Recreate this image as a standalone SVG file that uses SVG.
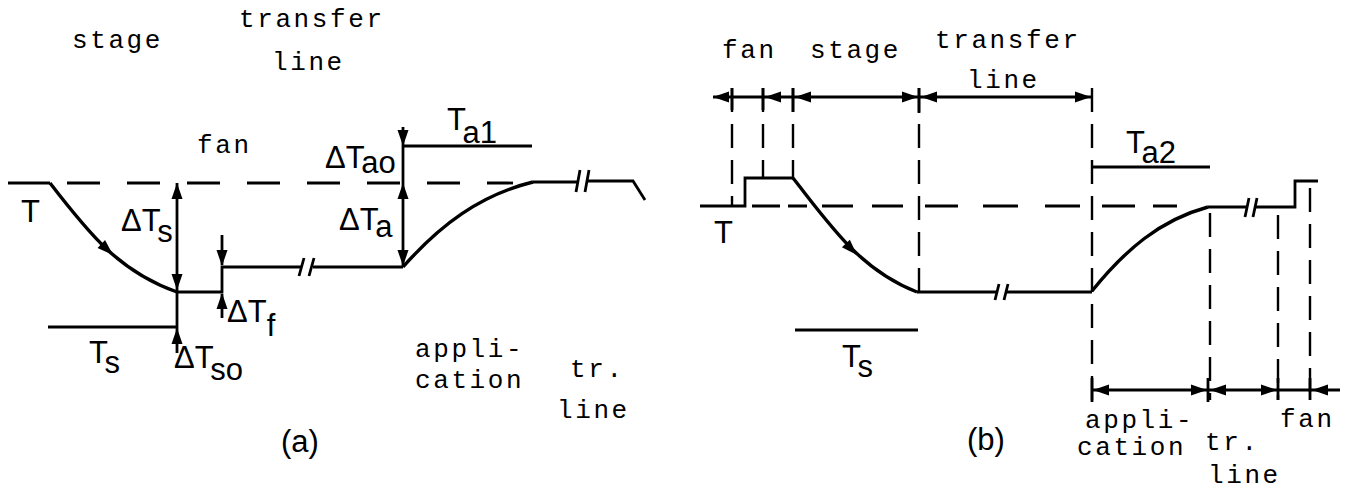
<svg xmlns="http://www.w3.org/2000/svg" xmlns:xlink="http://www.w3.org/1999/xlink" width="1347" height="493" viewBox="0 0 1347 493">
<defs>
<style>
.ln{stroke:#000;stroke-width:2.8;fill:none;stroke-linecap:butt}
.th{stroke-width:3.4}
.dsa{stroke-dasharray:33 27}
.vd{stroke-dasharray:24 12;stroke-width:2.4}
.mono{font-family:"Liberation Mono","DejaVu Sans Mono",monospace;font-size:26px;letter-spacing:2.6px;fill:#000}
.sans{font-family:"Liberation Sans","DejaVu Sans",sans-serif;font-size:31px;fill:#000}
</style>
<path id="ah" d="M0,0 L-16,-5.5 L-16,5.5 Z" fill="#000"/>
</defs>
<rect width="1347" height="493" fill="#fff"/>

<g id="panel-a">
  <g id="a-lines">
    <path class="ln" d="M8,183 H50"/>
    <path class="ln dsa" d="M67,183 H513"/>
    <path class="ln th" d="M50,183 C90,235 120,272 177,292"/>
    <path class="ln" d="M177,183 V353"/>
    <path class="ln" d="M48,327 H177"/>
    <path class="ln" d="M177,292 H222 V267 H302"/>
    <path class="ln" d="M313,267 H403"/>
    <path class="ln" d="M299,276 L304,258 M309,276 L314,258"/>
    <path class="ln" d="M222,235 V265"/>
    <path class="ln" d="M222,294 V318"/>
    <path class="ln" d="M403,127 V267"/>
    <path class="ln" d="M403,146 H532"/>
    <path class="ln th" d="M403,267 C440,225 480,195 533,182"/>
    <path class="ln" d="M533,182 H577 M587,181 H633 L645,200"/>
    <path class="ln" d="M576,192 L580,170 M585,192 L589,170"/>
  </g>
  <g id="a-arrows">
    <use xlink:href="#ah" transform="translate(113,255) rotate(43)"/>
    <use xlink:href="#ah" transform="translate(177,183) rotate(-90)"/>
    <use xlink:href="#ah" transform="translate(177,290) rotate(90)"/>
    <use xlink:href="#ah" transform="translate(177,328) rotate(-90)"/>
    <use xlink:href="#ah" transform="translate(222,266) rotate(90)"/>
    <use xlink:href="#ah" transform="translate(222,293) rotate(-90)"/>
    <use xlink:href="#ah" transform="translate(403,146) rotate(90)"/>
    <use xlink:href="#ah" transform="translate(403,183) rotate(-90)"/>
    <use xlink:href="#ah" transform="translate(403,266) rotate(90)"/>
  </g>
  <g id="a-text">
    <text class="mono" x="72" y="48">stage</text>
    <text class="mono" x="239" y="27">transfer</text>
    <text class="mono" x="272" y="70">line</text>
    <text class="mono" x="197" y="153">fan</text>
    <text class="mono" x="415" y="357">appli-</text>
    <text class="mono" x="415" y="388">cation</text>
    <text class="mono" x="570" y="377">tr.</text>
    <text class="mono" x="557" y="418">line</text>
    <text class="sans" x="21" y="222">T</text>
    <text class="sans" x="121" y="231">ΔT<tspan dy="11">s</tspan></text>
    <text class="sans" x="89" y="363">T<tspan dy="10">s</tspan></text>
    <text class="sans" x="174" y="368">ΔT<tspan dy="12">so</tspan></text>
    <text class="sans" x="227" y="322">ΔT<tspan dy="14">f</tspan></text>
    <text class="sans" x="339" y="230">ΔT<tspan dy="7">a</tspan></text>
    <text class="sans" x="325" y="168">ΔT<tspan dy="5">ao</tspan></text>
    <text class="sans" x="447" y="130">T<tspan dy="13">a1</tspan></text>
    <text class="sans" x="281" y="452">(a)</text>
  </g>
</g>

<g id="panel-b">
  <g id="b-lines">
    <path class="ln" d="M713,97 H1092"/>
    <path class="ln" d="M1092,390 H1340"/>
    <path class="ln vd" d="M732,88 V206 M763,88 V178 M793,88 V178 M919,88 V292 M1092,88 V402 M1210,213 V400 M1278,215 V400 M1310,188 V400"/>
    <path class="ln" d="M732,88 V110 M763,88 V110 M793,88 V112 M919,88 V113 M1092,378 V402 M1208,378 V402 M1278,378 V400 M1310,378 V400"/>
    <path class="ln" d="M700,206 H745 V178 H793"/>
    <path class="ln" d="M752,206 H780 M788,206 H807 M822,206 H853 M872,206 H903 M925,206 H958 M983,206 H1018 M1045,206 H1080 M1102,206 H1135 M1153,206 H1177"/>
    <path class="ln th" d="M793,178 C830,225 860,270 917,292"/>
    <path class="ln" d="M917,292 H998 M1007,292 H1092"/>
    <path class="ln" d="M995,300 L999,284 M1004,300 L1008,284"/>
    <path class="ln th" d="M1092,291 C1125,250 1160,220 1208,207"/>
    <path class="ln" d="M1208,207 H1247 M1255,207 H1295 V181 H1318"/>
    <path class="ln" d="M1245,217 L1249,198 M1253,217 L1257,198"/>
    <path class="ln" d="M795,330 H918"/>
    <path class="ln" d="M1092,167 H1210"/>
  </g>
  <g id="b-arrows">
    <use xlink:href="#ah" transform="translate(713,97) rotate(180)"/>
    <use xlink:href="#ah" transform="translate(765,97) rotate(180)"/>
    <use xlink:href="#ah" transform="translate(795,97) rotate(180)"/>
    <use xlink:href="#ah" transform="translate(918,97)"/>
    <use xlink:href="#ah" transform="translate(921,97) rotate(180)"/>
    <use xlink:href="#ah" transform="translate(1091,97)"/>
    <use xlink:href="#ah" transform="translate(1093,390) rotate(180)"/>
    <use xlink:href="#ah" transform="translate(1207,390)"/>
    <use xlink:href="#ah" transform="translate(1210,390) rotate(180)"/>
    <use xlink:href="#ah" transform="translate(1277,390)"/>
    <use xlink:href="#ah" transform="translate(1312,390) rotate(180)"/>
    <use xlink:href="#ah" transform="translate(857,255) rotate(46)"/>
  </g>
  <g id="b-text">
    <text class="mono" x="722" y="58">fan</text>
    <text class="mono" x="810" y="58">stage</text>
    <text class="mono" x="935" y="48">transfer</text>
    <text class="mono" x="967" y="88">line</text>
    <text class="mono" x="1085" y="428">appli-</text>
    <text class="mono" x="1077" y="455">cation</text>
    <text class="mono" x="1205" y="450">tr.</text>
    <text class="mono" x="1208" y="483">line</text>
    <text class="mono" x="1280" y="427">fan</text>
    <text class="sans" x="714" y="243" font-size="36">T</text>
    <text class="sans" x="842" y="367">T<tspan dy="10">s</tspan></text>
    <text class="sans" x="1126" y="153">T<tspan dy="10">a2</tspan></text>
    <text class="sans" x="967" y="450">(b)</text>
  </g>
</g>
</svg>
